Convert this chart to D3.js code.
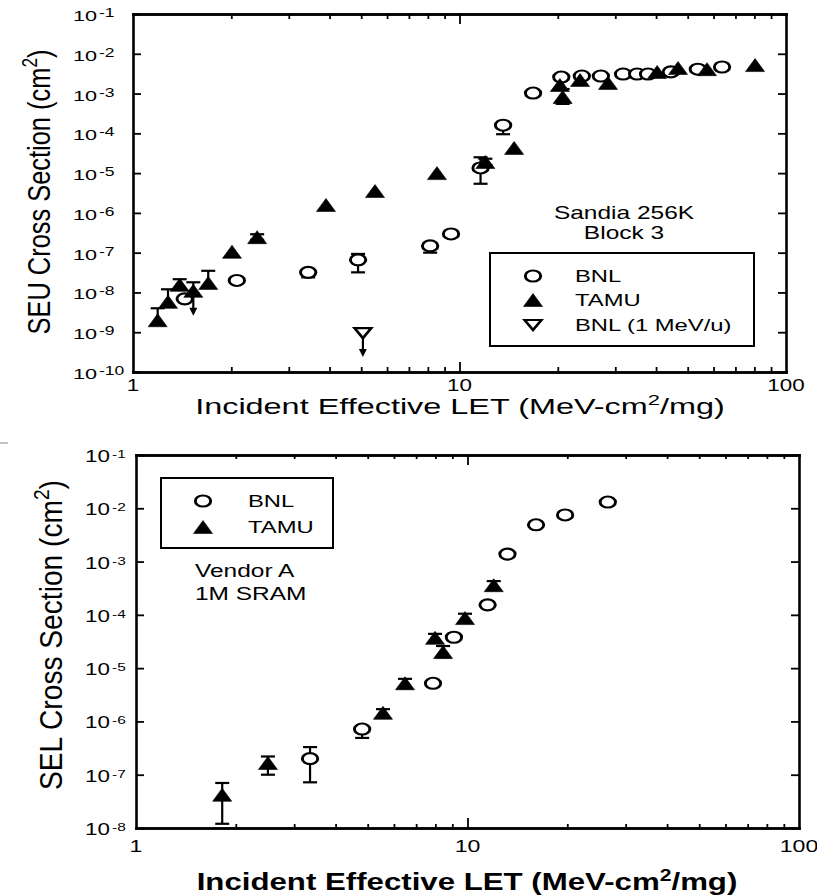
<!DOCTYPE html>
<html>
<head>
<meta charset="utf-8">
<script src="https://cdn.jsdelivr.net/npm/d3@7"></script>
<style>
  body { margin: 0; background: #fff; }
</style>
</head>
<body>
<script>
// ---- data ----
const letMajor = [1, 10, 100];
const letMinor = [2, 3, 4, 5, 6, 7, 8, 9, 20, 30, 40, 50, 60, 70, 80, 90];
const seuDecades = [1e-10, 1e-9, 1e-8, 1e-7, 1e-6, 1e-5, 1e-4, 1e-3, 1e-2, 1e-1];
const selDecades = [1e-8, 1e-7, 1e-6, 1e-5, 1e-4, 1e-3, 1e-2, 1e-1];

// top panel, Sandia 256K Block 3: [LET, cross section, err low, err high]
const seuBnl = [
  [1.44, 6.9e-9, null, null],
  [2.08, 2.0e-8, null, null],
  [3.44, 3.2e-8, 2.4e-8, null],
  [4.89, 6.6e-8, 3.2e-8, 9.3e-8],
  [8.13, 1.48e-7, 1.0e-7, null],
  [9.42, 2.95e-7, null, null],
  [11.6, 1.35e-5, 5.4e-6, 2.5e-5],
  [13.6, 1.6e-4, 9.5e-5, null],
  [16.8, 1.03e-3, null, null],
  [20.5, 2.6e-3, null, null],
  [23.7, 2.76e-3, null, null],
  [27.1, 2.76e-3, null, null],
  [31.7, 3.1e-3, null, null],
  [35.0, 3.1e-3, null, null],
  [37.8, 3.1e-3, null, null],
  [44.4, 3.5e-3, null, null],
  [53.7, 4.1e-3, null, null],
  [63.7, 4.65e-3, null, null]
];
const seuTamu = [
  [1.19, 2.0e-9, null, 4.0e-9],
  [1.28, 5.8e-9, null, 1.2e-8],
  [1.39, 1.55e-8, null, 2.15e-8],
  [1.53, 1.1e-8, null, 1.8e-8],
  [1.70, 1.74e-8, null, 3.5e-8],
  [2.01, 1.05e-7, null, null],
  [2.40, 2.45e-7, 2.1e-7, 2.9e-7],
  [3.90, 1.58e-6, null, null],
  [5.51, 3.55e-6, null, null],
  [8.53, 1.0e-5, null, null],
  [12.0, 1.9e-5, 1.6e-5, 2.3e-5],
  [14.7, 4.3e-5, null, null],
  [20.3, 1.64e-3, null, null],
  [20.7, 8.2e-4, 5.5e-4, 1.3e-3],
  [23.4, 2.2e-3, null, null],
  [28.5, 1.85e-3, null, null],
  [40.3, 3.5e-3, null, null],
  [46.7, 4.4e-3, null, null],
  [57.3, 4.1e-3, null, null],
  [80.4, 5.2e-3, null, null]
];
// upper limits, drawn as down arrows: [LET, from, to]
const seuTamuLimit = [[1.53, 1.1e-8, 2.6e-9]];
const seuBnl1MeV = [[5.06, 9.5e-10, 2.4e-10]];

// bottom panel, Vendor A 1M SRAM
const selBnl = [
  [3.35, 2.0e-7, 7.2e-8, 3.3e-7],
  [4.81, 7.2e-7, 4.9e-7, null],
  [7.87, 5.2e-6, null, null],
  [9.1, 3.8e-5, null, null],
  [11.5, 1.54e-4, null, null],
  [13.2, 1.38e-3, null, null],
  [16.1, 4.9e-3, null, null],
  [19.7, 7.5e-3, null, null],
  [26.5, 1.31e-2, null, null]
];
const selTamu = [
  [1.82, 4.2e-8, 1.2e-8, 7.0e-8],
  [2.50, 1.66e-7, 1.0e-7, 2.2e-7],
  [5.56, 1.45e-6, 1.2e-6, 1.7e-6],
  [6.48, 5.2e-6, 4.2e-6, 6.3e-6],
  [7.98, 3.7e-5, 3.0e-5, 4.4e-5],
  [8.44, 2.0e-5, 1.6e-5, 2.6e-5],
  [9.83, 8.7e-5, 7.2e-5, 1.05e-4],
  [12.0, 3.6e-4, 3.0e-4, 4.3e-4]
];

// ---- drawing ----
const SX = 1.4; // the scan is stretched sideways
const svg = d3.select("body").append("svg")
  .attr("width", 817).attr("height", 896)
  .style("font-family", "'Liberation Sans', Arial, Helvetica, sans-serif");

const circlePath = "M5.5,0A5.5,5.5 0 1,1 -5.5,0A5.5,5.5 0 1,1 5.5,0Z";
const triPath = "M0,-6.5L6.8,6.5L-6.8,6.5Z";
const downTriPath = "M-6,-5L6,-5L0,5Z";

function stretched(parent, x, y, str, size, anchor) {
  return parent.append("text")
    .attr("transform", `translate(${x},${y}) scale(${SX},1)`)
    .attr("text-anchor", anchor || "middle")
    .attr("font-size", size)
    .text(str);
}

function supText(t, base, sup, rest, supSize, rise) {
  t.append("tspan").text(base);
  t.append("tspan").attr("font-size", supSize).attr("dy", -rise).text(sup);
  if (rest) t.append("tspan").attr("dy", rise).text(rest);
  return t;
}

function drawPanel(cfg) {
  const x = d3.scaleLog().domain([1, 100]).range([cfg.left, cfg.right]);
  const y = d3.scaleLog().domain([cfg.ymin, 0.1]).range([cfg.bottom, cfg.top]);
  const g = svg.append("g");

  const style = sel => {
    sel.selectAll("text").remove();
    sel.select(".domain").attr("stroke", "#000").attr("stroke-width", 2.6).attr("stroke-linecap", "square");
    sel.selectAll(".tick line").attr("stroke", "#000").attr("stroke-width", 1.8);
  };
  const noFmt = () => "";
  g.append("g").attr("transform", `translate(0,${cfg.bottom})`)
    .call(d3.axisBottom(x).tickValues(letMinor).tickSizeInner(-cfg.minorLen).tickSizeOuter(0).tickFormat(noFmt)).call(style);
  g.append("g").attr("transform", `translate(0,${cfg.bottom})`)
    .call(d3.axisBottom(x).tickValues([10]).tickSizeInner(-10).tickSizeOuter(0).tickFormat(noFmt)).call(style);
  g.append("g").attr("transform", `translate(0,${cfg.top})`)
    .call(d3.axisTop(x).tickValues(letMinor).tickSizeInner(-cfg.minorLen).tickSizeOuter(0).tickFormat(noFmt)).call(style);
  g.append("g").attr("transform", `translate(0,${cfg.top})`)
    .call(d3.axisTop(x).tickValues([10]).tickSizeInner(-10).tickSizeOuter(0).tickFormat(noFmt)).call(style);
  g.append("g").attr("transform", `translate(${cfg.left},0)`)
    .call(d3.axisLeft(y).tickValues(cfg.decades).tickSizeInner(-8).tickSizeOuter(0).tickFormat(noFmt)).call(style);
  g.append("g").attr("transform", `translate(${cfg.right},0)`)
    .call(d3.axisRight(y).tickValues(cfg.decades).tickSizeInner(-8).tickSizeOuter(0).tickFormat(noFmt)).call(style);

  // tick labels: "10" then its exponent, raised
  cfg.decades.forEach(d => {
    stretched(svg, cfg.baseX, y(d) + 7, "10", cfg.tickFont, "start");
    stretched(svg, cfg.supLeft, y(d) + 3, String(Math.round(Math.log10(d))), cfg.supFont, "start");
  });
  letMajor.forEach(v => stretched(svg, x(v), cfg.xTickY, String(v), cfg.xTickFont));

  // axis titles
  const xt = svg.append("text").attr("text-anchor", "middle").attr("font-size", cfg.xTitleFont)
    .attr("font-weight", cfg.xTitleWeight);
  supText(xt, "Incident Effective LET (MeV-cm", "2", "/mg)", cfg.xTitleFont * 0.68, 9);
  const xw = xt.node().getBBox().width;
  xt.attr("transform", `translate(${cfg.xTitleX},${cfg.xTitleY}) scale(${cfg.xTitleLen / xw},1)`);

  const yt = svg.append("text").attr("text-anchor", "middle").attr("font-size", cfg.yTitleFont);
  supText(yt, cfg.yTitle + " (cm", "2", ")", cfg.yTitleFont * 0.68, 9);
  const yw = yt.node().getBBox().width;
  yt.attr("transform", `translate(${cfg.yTitleX},${cfg.yTitleY}) rotate(-90) scale(${cfg.yTitleLen / yw},1.4)`);

  return { x, y, g };
}

function errorBars(p, rows) {
  const eg = p.g.append("g").attr("stroke", "#000").attr("stroke-width", 2.2);
  rows.filter(r => r[2] !== null || r[3] !== null).forEach(r => {
    const cx = p.x(r[0]);
    const y0 = p.y(r[2] !== null ? r[2] : r[1]);
    const y1 = p.y(r[3] !== null ? r[3] : r[1]);
    eg.append("line").attr("x1", cx).attr("x2", cx).attr("y1", y0).attr("y2", y1);
    [r[2], r[3]].filter(v => v !== null).forEach(v => {
      eg.append("line").attr("x1", cx - 7).attr("x2", cx + 7).attr("y1", p.y(v)).attr("y2", p.y(v));
    });
  });
}

function arrows(p, rows) {
  rows.forEach(r => {
    const cx = p.x(r[0]);
    p.g.append("line").attr("x1", cx).attr("x2", cx)
      .attr("y1", p.y(r[1])).attr("y2", p.y(r[2]) - 6)
      .attr("stroke", "#000").attr("stroke-width", 2.2);
    p.g.append("path").attr("d", "M-4,-8L4,-8L0,0Z")
      .attr("transform", `translate(${cx},${p.y(r[2])})`).attr("fill", "#000");
  });
}

function markers(p, rows, kind) {
  p.g.append("g").selectAll("path").data(rows).join("path")
    .attr("d", kind === "bnl" ? circlePath : kind === "tamu" ? triPath : downTriPath)
    .attr("transform", d => `translate(${p.x(d[0])},${p.y(d[1])}) scale(${SX},1)`)
    .attr("fill", kind === "tamu" ? "#000" : "#fff")
    .attr("stroke", "#000")
    .attr("stroke-width", kind === "tamu" ? 0.5 : 2.1);
}

function legend(x0, y0, w, h, items, symX, textX) {
  const lg = svg.append("g");
  lg.append("rect").attr("x", x0).attr("y", y0).attr("width", w).attr("height", h)
    .attr("fill", "#fff").attr("stroke", "#000").attr("stroke-width", 2);
  items.forEach(it => {
    lg.append("path")
      .attr("d", it.kind === "bnl" ? circlePath : it.kind === "tamu" ? triPath : downTriPath)
      .attr("transform", `translate(${symX},${it.y}) scale(${SX},1)`)
      .attr("fill", it.kind === "tamu" ? "#000" : "#fff")
      .attr("stroke", "#000").attr("stroke-width", it.kind === "tamu" ? 0.5 : 2.1);
    stretched(lg, textX, it.y + 6, it.label, 17, "start");
  });
}

// top panel
const seuPanel = drawPanel({
  left: 133, right: 786, top: 14, bottom: 372, ymin: 1e-10, decades: seuDecades,
  minorLen: 5, tickFont: 15.5, supFont: 12.5, baseX: 73, supLeft: 99,
  xTickY: 391, xTickFont: 16,
  xTitleX: 460, xTitleY: 414, xTitleLen: 530, xTitleFont: 22, xTitleWeight: "normal",
  yTitle: "SEU Cross Section", yTitleX: 50, yTitleY: 192, yTitleLen: 285, yTitleFont: 23
});
errorBars(seuPanel, seuBnl);
errorBars(seuPanel, seuTamu);
arrows(seuPanel, seuTamuLimit);
arrows(seuPanel, seuBnl1MeV);
markers(seuPanel, seuBnl, "bnl");
markers(seuPanel, seuTamu, "tamu");
markers(seuPanel, seuBnl1MeV, "bnl1");

stretched(svg, 624, 219, "Sandia 256K", 17.5);
stretched(svg, 624, 239, "Block 3", 17.5);
legend(490, 253, 264, 93, [
  { kind: "bnl", label: "BNL", y: 276 },
  { kind: "tamu", label: "TAMU", y: 300 },
  { kind: "bnl1", label: "BNL (1 MeV/u)", y: 325 }
], 533, 575);

// bottom panel
const selPanel = drawPanel({
  left: 136, right: 799, top: 455, bottom: 828, ymin: 1e-8, decades: selDecades,
  minorLen: 4, tickFont: 16, supFont: 11, baseX: 85, supLeft: 112,
  xTickY: 852, xTickFont: 16.5,
  xTitleX: 467, xTitleY: 890, xTitleLen: 541, xTitleFont: 23, xTitleWeight: "bold",
  yTitle: "SEL Cross Section", yTitleX: 62, yTitleY: 635, yTitleLen: 310, yTitleFont: 23
});
errorBars(selPanel, selBnl);
errorBars(selPanel, selTamu);
markers(selPanel, selBnl, "bnl");
markers(selPanel, selTamu, "tamu");

legend(161, 478, 172, 70, [
  { kind: "bnl", label: "BNL", y: 501 },
  { kind: "tamu", label: "TAMU", y: 527 }
], 203, 248);
stretched(svg, 195, 577, "Vendor A", 17.5, "start");
stretched(svg, 195, 600, "1M SRAM", 17.5, "start");

// scan artefact at the left margin
svg.append("line").attr("x1", 0).attr("x2", 8).attr("y1", 443).attr("y2", 443)
  .attr("stroke", "#c8c4bc").attr("stroke-width", 2);
</script>
</body>
</html>
